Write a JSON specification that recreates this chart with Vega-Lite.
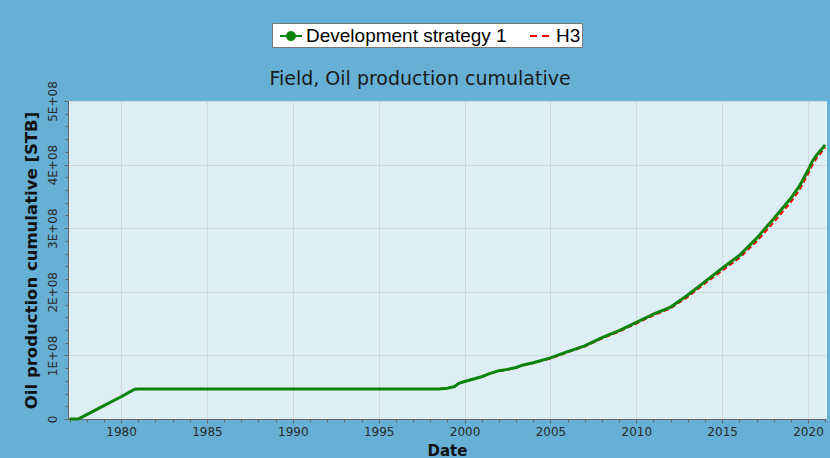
{
  "$schema": "https://vega.github.io/schema/vega-lite/v6.json",
  "width": 758,
  "height": 318,
  "autosize": {"type": "none"},
  "padding": {"left": 68, "top": 101, "right": 4, "bottom": 39},
  "background": "#66b0d6",
  "title": {"text": "Field, Oil production cumulative", "font": "DejaVu Sans", "fontSize": 19, "fontWeight": "normal", "color": "#1a1a1a", "frame": "group", "anchor": "middle", "offset": 14, "dx": -27, "dy": 80},
  "config": {
    "view": {"fill": "#ddeef5", "stroke": "#eef6fa", "strokeWidth": 1},
    "axis": {"labelFont": "DejaVu Sans", "labelFontSize": 12, "labelColor": "#2a2a2a", "titleFont": "DejaVu Sans", "titleFontWeight": "bold", "titleColor": "#111111", "domainColor": "#666666", "tickColor": "#666666", "gridColor": "#d2d8db", "gridOpacity": 1}
  },
  "datasets": {
    "prod": [
      {"date": "1977-01-01", "value": 0, "series": "Development strategy 1"},
      {"date": "1977-07-01", "value": 0, "series": "Development strategy 1"},
      {"date": "1978-01-01", "value": 7000000, "series": "Development strategy 1"},
      {"date": "1979-01-01", "value": 21000000, "series": "Development strategy 1"},
      {"date": "1980-01-01", "value": 35000000, "series": "Development strategy 1"},
      {"date": "1980-10-15", "value": 46700000, "series": "Development strategy 1"},
      {"date": "1981-01-01", "value": 47000000, "series": "Development strategy 1"},
      {"date": "1985-01-01", "value": 47000000, "series": "Development strategy 1"},
      {"date": "1990-01-01", "value": 47000000, "series": "Development strategy 1"},
      {"date": "1995-01-01", "value": 47000000, "series": "Development strategy 1"},
      {"date": "1998-07-01", "value": 47000000, "series": "Development strategy 1"},
      {"date": "1999-01-01", "value": 48500000, "series": "Development strategy 1"},
      {"date": "1999-06-01", "value": 51000000, "series": "Development strategy 1"},
      {"date": "1999-09-01", "value": 56000000, "series": "Development strategy 1"},
      {"date": "2000-01-01", "value": 59000000, "series": "Development strategy 1"},
      {"date": "2000-06-01", "value": 62000000, "series": "Development strategy 1"},
      {"date": "2001-01-01", "value": 66500000, "series": "Development strategy 1"},
      {"date": "2001-06-01", "value": 71000000, "series": "Development strategy 1"},
      {"date": "2002-01-01", "value": 76000000, "series": "Development strategy 1"},
      {"date": "2002-07-01", "value": 78000000, "series": "Development strategy 1"},
      {"date": "2003-01-01", "value": 81000000, "series": "Development strategy 1"},
      {"date": "2003-06-01", "value": 85000000, "series": "Development strategy 1"},
      {"date": "2004-01-01", "value": 88500000, "series": "Development strategy 1"},
      {"date": "2005-01-01", "value": 96000000, "series": "Development strategy 1"},
      {"date": "2006-01-01", "value": 106000000, "series": "Development strategy 1"},
      {"date": "2007-01-01", "value": 115000000, "series": "Development strategy 1"},
      {"date": "2008-01-01", "value": 128000000, "series": "Development strategy 1"},
      {"date": "2009-01-01", "value": 139000000, "series": "Development strategy 1"},
      {"date": "2010-01-01", "value": 152000000, "series": "Development strategy 1"},
      {"date": "2011-01-01", "value": 165000000, "series": "Development strategy 1"},
      {"date": "2012-01-01", "value": 176000000, "series": "Development strategy 1"},
      {"date": "2013-01-01", "value": 195000000, "series": "Development strategy 1"},
      {"date": "2014-01-01", "value": 216000000, "series": "Development strategy 1"},
      {"date": "2015-01-01", "value": 237000000, "series": "Development strategy 1"},
      {"date": "2016-01-01", "value": 257000000, "series": "Development strategy 1"},
      {"date": "2017-01-01", "value": 284000000, "series": "Development strategy 1"},
      {"date": "2018-01-01", "value": 315000000, "series": "Development strategy 1"},
      {"date": "2019-01-01", "value": 347000000, "series": "Development strategy 1"},
      {"date": "2019-07-01", "value": 366000000, "series": "Development strategy 1"},
      {"date": "2020-01-01", "value": 391000000, "series": "Development strategy 1"},
      {"date": "2020-04-01", "value": 405000000, "series": "Development strategy 1"},
      {"date": "2020-07-01", "value": 415000000, "series": "Development strategy 1"},
      {"date": "2021-01-01", "value": 431000000, "series": "Development strategy 1"},
      {"date": "1977-01-01", "value": 0, "series": "H3"},
      {"date": "1977-07-01", "value": 0, "series": "H3"},
      {"date": "1978-01-01", "value": 7000000, "series": "H3"},
      {"date": "1979-01-01", "value": 21000000, "series": "H3"},
      {"date": "1980-01-01", "value": 35000000, "series": "H3"},
      {"date": "1980-10-15", "value": 46700000, "series": "H3"},
      {"date": "1981-01-01", "value": 47000000, "series": "H3"},
      {"date": "1998-07-01", "value": 47000000, "series": "H3"},
      {"date": "1999-01-01", "value": 48500000, "series": "H3"},
      {"date": "1999-06-01", "value": 51000000, "series": "H3"},
      {"date": "1999-09-01", "value": 56000000, "series": "H3"},
      {"date": "2000-01-01", "value": 59000000, "series": "H3"},
      {"date": "2000-06-01", "value": 62000000, "series": "H3"},
      {"date": "2001-01-01", "value": 66500000, "series": "H3"},
      {"date": "2001-06-01", "value": 71000000, "series": "H3"},
      {"date": "2002-01-01", "value": 75500000, "series": "H3"},
      {"date": "2002-07-01", "value": 77500000, "series": "H3"},
      {"date": "2003-01-01", "value": 80500000, "series": "H3"},
      {"date": "2003-06-01", "value": 84500000, "series": "H3"},
      {"date": "2004-01-01", "value": 88000000, "series": "H3"},
      {"date": "2005-01-01", "value": 95000000, "series": "H3"},
      {"date": "2006-01-01", "value": 105000000, "series": "H3"},
      {"date": "2007-01-01", "value": 114000000, "series": "H3"},
      {"date": "2008-01-01", "value": 126500000, "series": "H3"},
      {"date": "2009-01-01", "value": 137500000, "series": "H3"},
      {"date": "2010-01-01", "value": 150000000, "series": "H3"},
      {"date": "2011-01-01", "value": 163000000, "series": "H3"},
      {"date": "2012-01-01", "value": 174000000, "series": "H3"},
      {"date": "2013-01-01", "value": 192000000, "series": "H3"},
      {"date": "2014-01-01", "value": 213000000, "series": "H3"},
      {"date": "2015-01-01", "value": 233000000, "series": "H3"},
      {"date": "2016-01-01", "value": 253000000, "series": "H3"},
      {"date": "2017-01-01", "value": 279000000, "series": "H3"},
      {"date": "2018-01-01", "value": 309000000, "series": "H3"},
      {"date": "2019-01-01", "value": 341000000, "series": "H3"},
      {"date": "2019-07-01", "value": 360000000, "series": "H3"},
      {"date": "2020-01-01", "value": 385000000, "series": "H3"},
      {"date": "2020-04-01", "value": 399000000, "series": "H3"},
      {"date": "2020-07-01", "value": 410000000, "series": "H3"},
      {"date": "2021-01-01", "value": 427000000, "series": "H3"}
    ]
  },
  "data": {"name": "prod"},
  "layer": [
    {
      "transform": [{"filter": "datum.series === 'H3'"}],
      "mark": {"type": "line", "strokeWidth": 2, "strokeDash": [5, 3], "interpolate": "linear"},
      "encoding": {
        "x": {"field": "date", "type": "temporal", "scale": {"domain": ["1976-11-28", "2021-01-18"]},
          "axis": {"title": "Date", "titleFontSize": 15, "titlePadding": 6, "format": "%Y", "tickCount": {"interval": "year", "step": 5}, "labelAngle": 0, "tickSize": 4, "labelPadding": 3, "labelFlush": false}},
        "y": {"field": "value", "type": "quantitative", "scale": {"domain": [0, 500000000], "nice": false},
          "axis": {"title": "Oil production cumulative [STB]", "titleFontSize": 16.5, "titlePadding": 7, "values": [0, 100000000, 200000000, 300000000, 400000000, 500000000], "labelExpr": "datum.value === 0 ? '0' : (datum.value / 100000000) + 'E+08'", "labelAngle": -90, "labelAlign": "center", "labelBaseline": "bottom", "tickSize": 4, "labelPadding": 5}},
        "color": {"field": "series", "type": "nominal",
          "scale": {"domain": ["Development strategy 1", "H3"], "range": ["#0a840a", "#ff0000"]},
          "legend": {"orient": "none", "legendX": 204, "legendY": -78, "direction": "horizontal", "title": null,
            "fillColor": "white", "strokeColor": "#777777", "padding": 1,
            "labelFont": "Liberation Sans", "labelFontSize": 19, "labelColor": "#000000", "labelOffset": 3, "labelLimit": 400,
            "symbolSize": 484, "symbolStrokeWidth": 2, "symbolOffset": 6, "columnPadding": 16,
            "encode": {"symbols": {"update": {
              "shape": {"signal": "datum.value === 'H3' ? 'stroke' : 'M-1,0L1,0M-0.36,0A0.36,0.36,0,1,1,0.36,0A0.36,0.36,0,1,1,-0.36,0Z'"},
              "fill": {"signal": "datum.value === 'H3' ? 'transparent' : '#0a840a'"},
              "strokeDash": {"signal": "datum.value === 'H3' ? [7, 5] : [1, 0]"}
            }}}}}
      }
    },
    {
      "transform": [{"filter": "datum.series === 'Development strategy 1'"}],
      "mark": {"type": "line", "strokeWidth": 3, "interpolate": "linear"},
      "encoding": {
        "x": {"field": "date", "type": "temporal",
          "axis": {"title": null, "labels": false, "grid": false, "domain": false, "tickCount": {"interval": "year", "step": 1}, "tickSize": 3, "orient": "bottom"}},
        "y": {"field": "value", "type": "quantitative",
          "axis": {"title": null, "labels": false, "grid": false, "domain": false, "values": [20000000, 40000000, 60000000, 80000000, 120000000, 140000000, 160000000, 180000000, 220000000, 240000000, 260000000, 280000000, 320000000, 340000000, 360000000, 380000000, 420000000, 440000000, 460000000, 480000000], "tickSize": 3, "orient": "left"}},
        "color": {"field": "series", "type": "nominal"}
      }
    }
  ],
  "resolve": {"axis": {"x": "independent", "y": "independent"}}
}
